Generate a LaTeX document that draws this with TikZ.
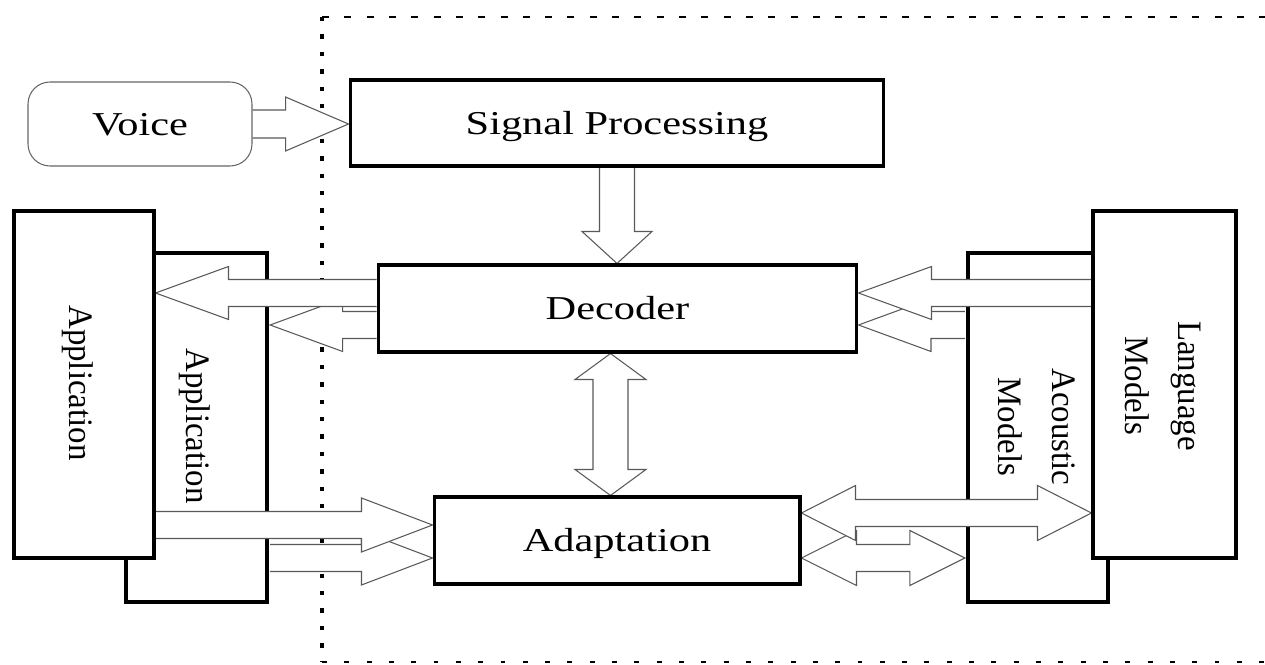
\documentclass[tikz,border=0pt]{standalone}
\usepackage{fontspec}
\setmainfont{Liberation Serif}
\newfontfamily\hfont[FakeStretch=1.27]{Liberation Serif}
\newfontfamily\vfont[FakeStretch=0.96]{Liberation Serif}
\usetikzlibrary{calc}
\pgfdeclarelayer{back}
\pgfdeclarelayer{front}
\pgfsetlayers{back,main,front}
\tikzset{
  box/.style={draw=black, line width=1.75pt, fill=white, inner sep=0pt},
  hbox/.style={box, font=\hfont\fontsize{19pt}{23pt}\selectfont, text height=12.6pt, text depth=0pt},
  vtext/.style={font=\vfont\fontsize{19.5pt}{30.6pt}\selectfont, rotate=-90, align=center, inner sep=0pt},
  voicebox/.style={draw=black!60, line width=0.6pt, rounded corners=0.44cm, fill=white, inner sep=0pt,
    font=\hfont\fontsize{19pt}{23pt}\selectfont, text height=12.6pt, text depth=0pt},
  arrowline/.style={draw=black!65, line width=0.6pt},
  frametop/.style={line width=1.7pt, dash pattern=on 4pt off 8.7pt},
  frameleft/.style={line width=2.3pt, dash pattern=on 2.5pt off 7.4pt},
  framebottom/.style={line width=1.7pt, dash pattern=on 2.8pt off 9.9pt},
}
% single fat arrow: #1 tail, #2 tip, #3 shaft half width, #4 head half width, #5 head length
\newcommand\fatarrow[5]{%
  \coordinate (faT) at #1;
  \coordinate (faH) at #2;
  \coordinate (faB) at ($(faH)!#5!(faT)$);
  \fill[white] ($(faT)!#3!90:(faH)$) -- ($(faB)!#3!-90:(faT)$) -- ($(faB)!#4!-90:(faT)$) -- (faH)
     -- ($(faB)!#4!90:(faT)$) -- ($(faB)!#3!90:(faT)$) -- ($(faT)!#3!-90:(faH)$) -- cycle;
  \draw[arrowline] ($(faT)!#3!90:(faH)$) -- ($(faB)!#3!-90:(faT)$) -- ($(faB)!#4!-90:(faT)$) -- (faH)
     -- ($(faB)!#4!90:(faT)$) -- ($(faB)!#3!90:(faT)$) -- ($(faT)!#3!-90:(faH)$);
}
% double fat arrow: #1 end A, #2 end B, #3 shaft half width, #4 head half width, #5 head length
\newcommand\dblarrow[5]{%
  \coordinate (daA) at #1;
  \coordinate (daB) at #2;
  \coordinate (daAb) at ($(daA)!#5!(daB)$);
  \coordinate (daBb) at ($(daB)!#5!(daA)$);
  \filldraw[arrowline, fill=white] (daA) -- ($(daAb)!#4!90:(daB)$) -- ($(daAb)!#3!90:(daB)$)
     -- ($(daBb)!#3!-90:(daA)$) -- ($(daBb)!#4!-90:(daA)$) -- (daB) -- ($(daBb)!#4!90:(daA)$)
     -- ($(daBb)!#3!90:(daA)$) -- ($(daAb)!#3!-90:(daB)$) -- ($(daAb)!#4!-90:(daB)$) -- cycle;
}
\begin{document}
\begin{tikzpicture}[x=0.02cm, y=-0.02cm]
\useasboundingbox (0,0) rectangle (1265,665);

\begin{pgfonlayer}{back}
  % dotted frame
  \coordinate (fTL) at (322,17);
  \coordinate (fTR) at (1265,17);
  \coordinate (fBL) at (322,662);
  \coordinate (fBR) at (1265,662);
  \draw[frametop] (fTL) -- (fTR);
  \draw[frameleft] (fTL) -- (fBL);
  \draw[framebottom] (fBL) -- (fBR);
  % rear boxes
  \node[box, minimum width=2.82cm, minimum height=6.98cm] (app2) at (196.5,427.5) {};
  \node[vtext] (app2t) at (195,426) {Application};
  \node[box, minimum width=2.8cm, minimum height=6.98cm] (am) at (1038,427.5) {};
  \node[vtext] (amt) at (1037,427) {Acoustic\\Models};
\end{pgfonlayer}

\begin{pgfonlayer}{front}
  \node[voicebox, minimum width=4.48cm, minimum height=1.68cm] (voice) at (140,124) {Voice};
  \node[hbox, minimum width=10.68cm, minimum height=1.72cm] (sp) at (617,123) {Signal Processing};
  \node[hbox, minimum width=9.58cm, minimum height=1.74cm] (dec) at (617.5,308.5) {Decoder};
  \node[hbox, minimum width=7.32cm, minimum height=1.74cm] (adapt) at (617,540.5) {Adaptation};
  \node[box, minimum width=2.8cm, minimum height=6.94cm] (app1) at (84,384.5) {};
  \node[vtext] (app1t) at (78,383) {Application};
  \node[box, minimum width=2.86cm, minimum height=6.94cm] (lm) at (1164.5,384.5) {};
  \node[vtext] (lmt) at (1163,386) {Language\\Models};
\end{pgfonlayer}

% connector end points
\coordinate (vt) at (voice.east);
\coordinate (vh) at (vt -| sp.west);
\coordinate (st) at (sp.south);
\coordinate (sh) at (st |- dec.north);
\coordinate (ma) at ([xshift=-0.14cm]dec.south);
\coordinate (mb) at (ma |- adapt.north);
\coordinate (a1t) at ([yshift=0.31cm]dec.west);
\coordinate (a1h) at (a1t -| app1.east);
\coordinate (a2t) at ([yshift=-0.33cm]dec.west);
\coordinate (a2h) at ($(a2t -| app2.east)+(0.9pt,0)$);
\coordinate (a3h) at ([yshift=0.31cm]adapt.west);
\coordinate (a3t) at (a3h -| app1.east);
\coordinate (a4h) at ([yshift=-0.35cm]adapt.west);
\coordinate (a4t) at ($(a4h -| app2.east)+(0.9pt,0)$);
\coordinate (a5h) at ([yshift=0.31cm]dec.east);
\coordinate (a5t) at (a5h -| lm.west);
\coordinate (a6h) at ([yshift=-0.33cm]dec.east);
\coordinate (a6t) at ($(a6h -| am.west)+(-0.9pt,0)$);
\coordinate (a7a) at ([yshift=0.55cm]adapt.east);
\coordinate (a7b) at (a7a -| lm.west);
\coordinate (a8a) at ([yshift=-0.35cm]adapt.east);
\coordinate (a8b) at ($(a8a -| am.west)+(-0.9pt,0)$);

% connectors
\fatarrow{(vt)}{(vh)}{0.28cm}{0.54cm}{1.26cm}
\fatarrow{(st)}{(sh)}{0.35cm}{0.70cm}{0.64cm}
\dblarrow{(ma)}{(mb)}{0.35cm}{0.71cm}{0.52cm}
\fatarrow{(a2t)}{(a2h)}{0.27cm}{0.53cm}{1.45cm}
\fatarrow{(a1t)}{(a1h)}{0.27cm}{0.53cm}{1.46cm}
\fatarrow{(a4t)}{(a4h)}{0.27cm}{0.54cm}{1.42cm}
\fatarrow{(a3t)}{(a3h)}{0.27cm}{0.54cm}{1.42cm}
\fatarrow{(a6t)}{(a6h)}{0.27cm}{0.53cm}{1.45cm}
\fatarrow{(a5t)}{(a5h)}{0.27cm}{0.53cm}{1.46cm}
\dblarrow{(a8a)}{(a8b)}{0.27cm}{0.55cm}{1.10cm}
\dblarrow{(a7a)}{(a7b)}{0.27cm}{0.55cm}{1.08cm}
\end{tikzpicture}
\end{document}
